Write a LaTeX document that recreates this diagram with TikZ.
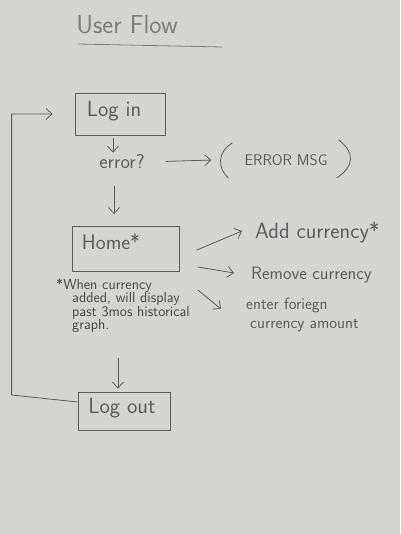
\documentclass[tikz,border=0pt]{standalone}
\usetikzlibrary{arrows.meta,calc}
\definecolor{paper}{RGB}{214,212,208}
\definecolor{ink}{RGB}{92,92,92}
\definecolor{darkink}{RGB}{70,70,70}
\definecolor{lightink}{RGB}{125,125,125}
\begin{document}
\begin{tikzpicture}[x=1pt,y=-1pt,
  pencil/.style={draw=ink,line width=0.8pt},
  box/.style={pencil,rectangle,inner sep=0pt},
  lbl/.style={text=ink,font=\sffamily\fontsize{18}{20}\selectfont,inner sep=1pt},
  note/.style={text=darkink,font=\sffamily\fontsize{14.5}{13.5}\selectfont,inner sep=0pt,align=left},
  arr/.style={pencil,-{Straight Barb[length=6pt,width=11pt,line width=0.8pt]}}]
\fill[paper] (0,0) rectangle (400,534);
\useasboundingbox (0,0) rectangle (400,534);
% title
\node[lbl,text=lightink,font=\sffamily\fontsize{26}{28}\selectfont] (title) at (127,25) {User Flow};
\draw[pencil,draw=lightink] ($(title.center)+(-49,19)$) -- ($(title.center)+(95,22)$);
% boxes
\node[box,minimum width=90pt,minimum height=42pt] (login) at (120,114) {};
\node[lbl,font=\sffamily\fontsize{22}{24}\selectfont] (logintxt) at (114,111) {Log in};
\node[lbl,font=\sffamily\fontsize{20}{22}\selectfont] (error) at (122,162) {error?};
\node[lbl,font=\sffamily\fontsize{15.5}{17}\selectfont] (msg) at (286,160) {ERROR MSG};
\draw[pencil] ($(msg.west)+(-11,-17)$) .. controls ($(msg.west)+(-26,-8)$) and ($(msg.west)+(-26,8)$) .. ($(msg.west)+(-15,18)$);
\draw[pencil] ($(msg.east)+(10,-20)$) .. controls ($(msg.east)+(26,-8)$) and ($(msg.east)+(26,6)$) .. ($(msg.east)+(8,18)$);
\node[box,minimum width=107pt,minimum height=45pt] (home) at (126,249) {};
\node[lbl,font=\sffamily\fontsize{21}{23}\selectfont] (hometxt) at (111,242) {Home*};
\node[note,anchor=north west] (note) at (56,278) {*When currency\\\hspace*{16pt}added, will display\\\hspace*{16pt}past 3mos historical\\\hspace*{16pt}graph.};
\node[lbl,anchor=west,font=\sffamily\fontsize{22}{24}\selectfont] (add) at (254,232) {Add currency*};
\node[lbl,anchor=west] (remove) at (250,275) {Remove currency};
\node[lbl,anchor=west,align=left,font=\sffamily\fontsize{16.5}{21}\selectfont] (enter) at (245,315) {enter foriegn\\[-2pt]\hspace*{4pt}currency amount};
\node[box,minimum width=92pt,minimum height=38pt] (logout) at (124,411) {};
\node[lbl,font=\sffamily\fontsize{22}{24}\selectfont] (logouttxt) at (122,408) {Log out};
% connectors
\draw[arr,shorten <=3pt,shorten >=1pt] ([xshift=-9pt]login.south -| error) -- ([xshift=-9pt]error.north);
\draw[arr,shorten <=20pt,shorten >=2pt] (error.east) -- ($(msg.west)+(-30,0)$);
\draw[arr,shorten <=16pt,shorten >=12pt] ([xshift=-8pt]error.south) -- ([xshift=-8pt]error.south |- home.north);
\draw[arr] ($(home.east)+(17,1)$) -- ($(add.west)+(-12,-1)$);
\draw[arr] ($(home.east)+(18,18)$) -- ($(remove.west)+(-16,-2)$);
\draw[arr] ($(home.east)+(18,41)$) -- ($(enter.west)+(-24,-6)$);
\draw[arr,shorten <=86pt,shorten >=3pt] ([xshift=-8pt]home.south) -- ([xshift=-6pt]logout.north);
\draw[arr] ([yshift=9pt]logout.west) -- ++(-66,-7) |- ([xshift=-22pt]login.west);
\end{tikzpicture}
\end{document}
